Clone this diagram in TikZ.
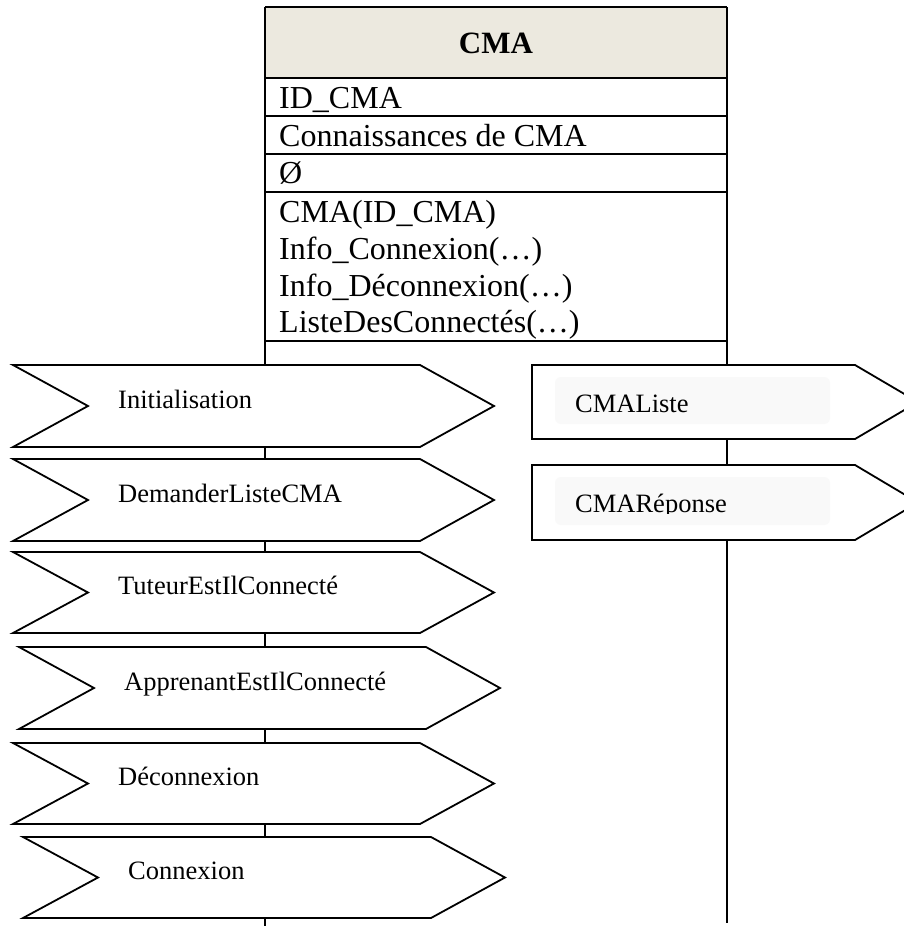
\documentclass[tikz,border=0pt]{standalone}
\usepackage{fontspec}
\setmainfont{Liberation Serif}
\definecolor{headfill}{RGB}{236,233,223}
\definecolor{tagfill}{RGB}{249,249,249}
\begin{document}
\begin{tikzpicture}[x=1pt,y=-1pt,
  classline/.style={line width=2.6pt},
  sigline/.style={draw=black,line width=1.8pt,fill=white,line join=miter},
  sigtext/.style={font=\fontsize{26.5}{30}\selectfont,anchor=base west,inner sep=0pt},
  rowtext/.style={font=\fontsize{32}{37}\selectfont,anchor=base west,inner sep=0pt},
  tagbox/.style={fill=tagfill,rounded corners=6pt},
]
\useasboundingbox (0,0) rectangle (904,926);
\begin{scope}
\clip (0,0) rectangle (904,926);

% class header
\fill[headfill] (265,7) rectangle (727,78);
\node[font=\bfseries\fontsize{31}{36}\selectfont] (title) at (496,43) {CMA};

% class frame and compartments; the side lines run on as lifelines
\coordinate (topL) at (265,7);
\coordinate (topR) at (727,7);
\coordinate (endL) at (265,926);
\coordinate (endR) at (727,923);
\draw[classline] (topL) -- (topR);
\foreach \yy in {78,116,154,192,341}
  \draw[classline] (265,\yy) -- (727,\yy);
\draw[classline] (topL) -- (endL);
\draw[classline] (topR) -- (endR);

% attributes and operations
\node[rowtext] (attr)  at (279,108) {ID\_CMA};
\node[rowtext] (know)  at (279,146) {Connaissances de CMA};
\node[rowtext] (none)  at (279,183) {Ø};
\node[rowtext] (opA)   at (279,222) {CMA(ID\_CMA)};
\node[rowtext] (opB)   at (279,259) {Info\_Connexion(…)};
\node[rowtext] (opC)   at (279,296) {Info\_Déconnexion(…)};
\node[rowtext] (opD)   at (279,332) {ListeDesConnectés(…)};

% incoming signals (left)
\foreach \nm/\ta/\bo/\lx/\rx/\tx/\lab in {
    init/365/447/13/420/118/Initialisation,
    dem/459/541/13/420/118/DemanderListeCMA,
    tut/552/633/13/420/118/TuteurEstIlConnecté,
    app/647/729/19/426/124/ApprenantEstIlConnecté,
    dec/743/824/13/420/118/Déconnexion,
    con/837/918/23/431/128/Connexion}
{
  \pgfmathsetmacro\mm{(\ta+\bo)/2}
  \draw[sigline] (\lx,\ta) -- (\rx,\ta) -- (\rx+74,\mm) -- (\rx,\bo)
     -- (\lx,\bo) -- (\lx+75,\mm) -- cycle;
  \node[sigtext] (\nm) at (\tx,\mm+2) {\lab};
}

% outgoing signals (right)
\foreach \nm/\ta/\bo/\cb/\lab in {
    lst/365/439/424/CMAListe,
    rep/465/540/513/CMARéponse}
{
  \pgfmathsetmacro\mm{(\ta+\bo)/2}
  \draw[sigline] (532,\ta) -- (855,\ta) -- (918,\mm) -- (855,\bo)
     -- (532,\bo) -- cycle;
  \fill[tagbox] (555,\ta+12) rectangle (830,\bo-15);
  \begin{scope}
    \clip (555,\ta+12) rectangle (830,\cb);
    \node[sigtext] (\nm) at (575,\mm+10) {\lab};
  \end{scope}
}
\end{scope}
\end{tikzpicture}
\end{document}
